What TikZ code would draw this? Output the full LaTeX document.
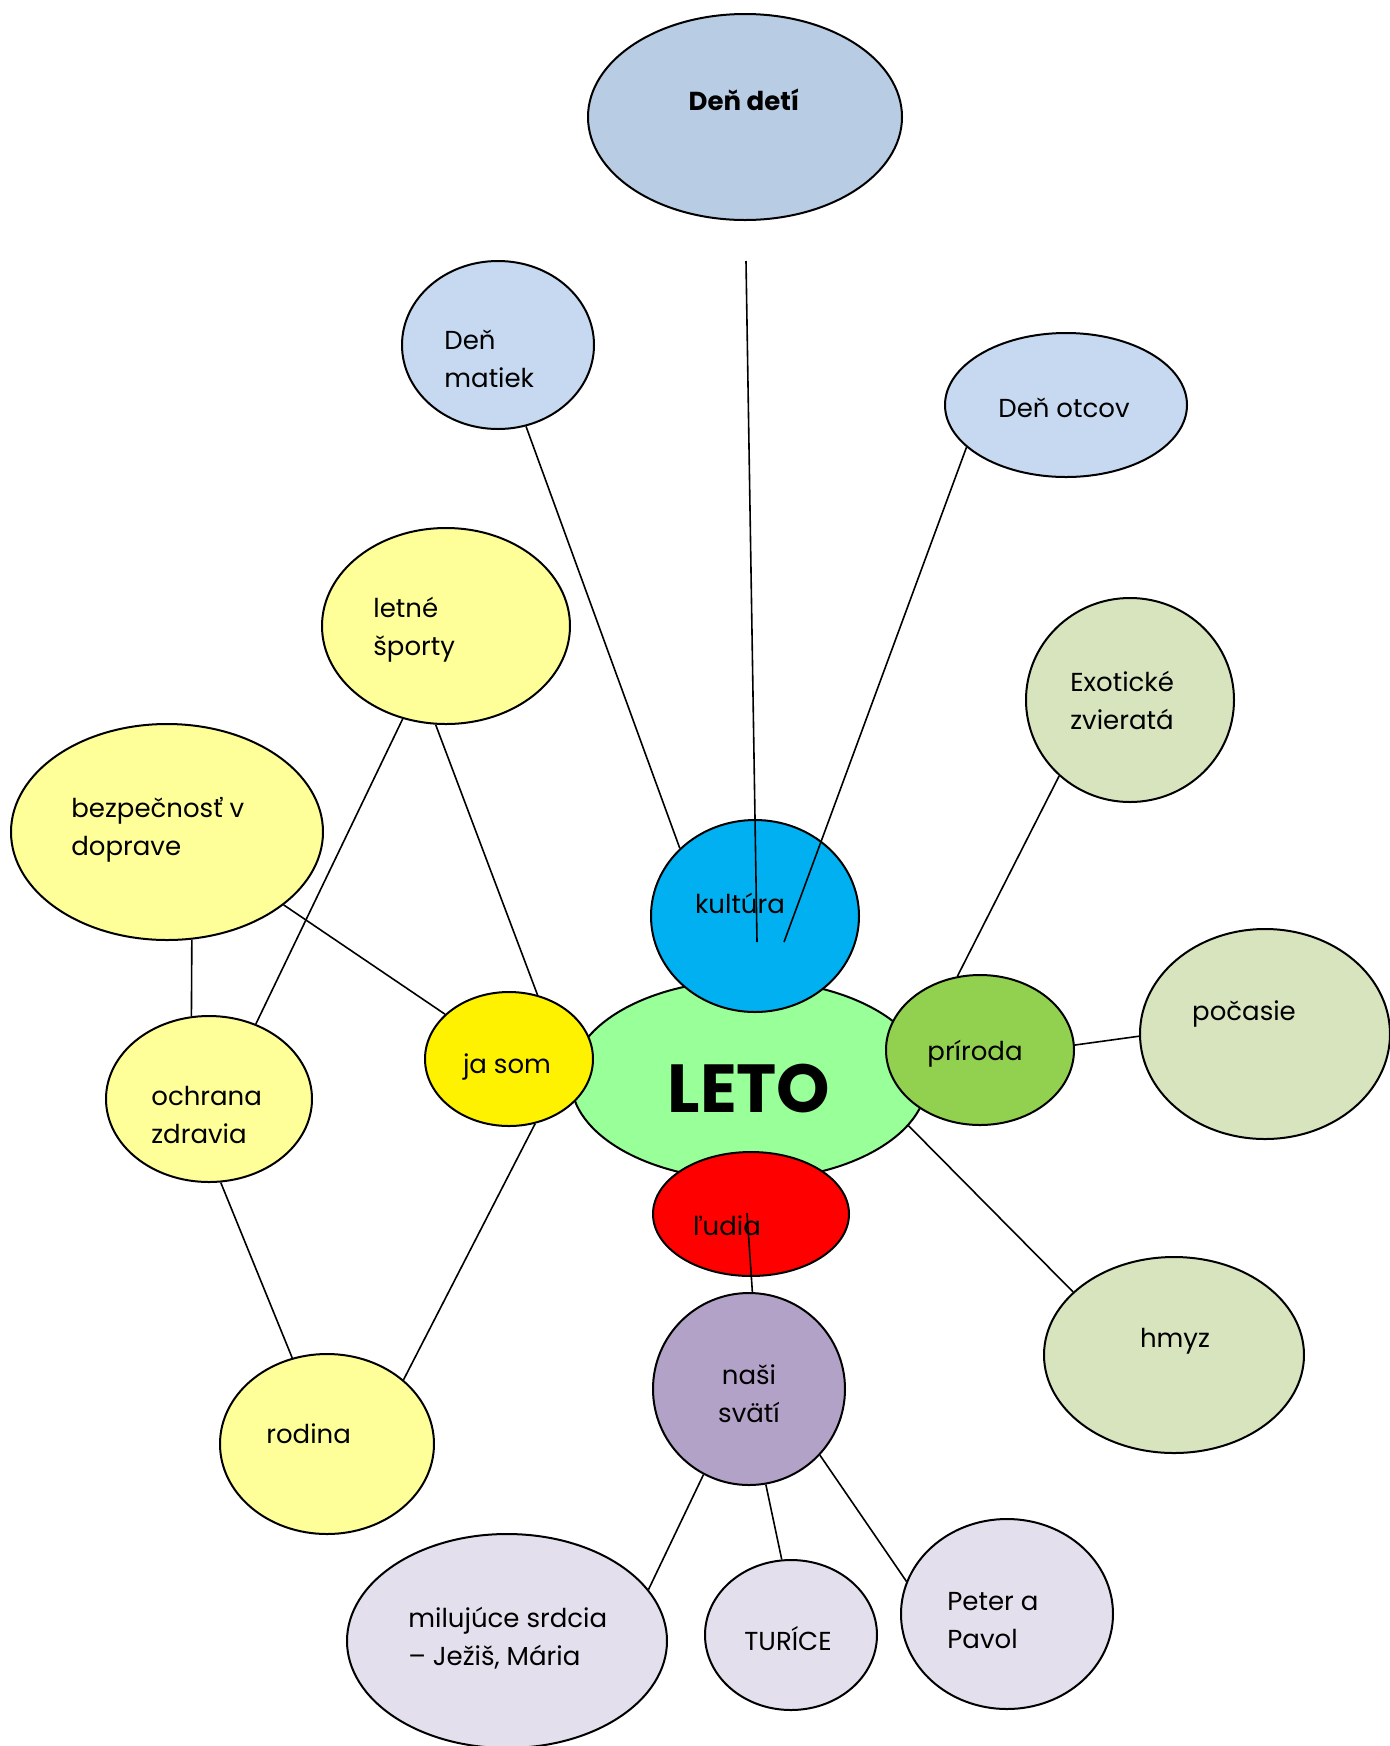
\documentclass[tikz,border=0pt]{standalone}
\usepackage{fontspec}
\setmainfont{Poppins}
\usetikzlibrary{shapes.geometric}

\definecolor{detiblue}{HTML}{B8CCE4}
\definecolor{lightblue}{HTML}{C6D9F1}
\definecolor{paleyellow}{HTML}{FFFF99}
\definecolor{kulturablue}{HTML}{00B0F0}
\definecolor{letogreen}{HTML}{99FF99}
\definecolor{prirodagreen}{HTML}{92D050}
\definecolor{palegreen}{HTML}{D7E4BD}
\definecolor{svatipurple}{HTML}{B3A2C7}
\definecolor{palepurple}{HTML}{E4DFEC}

\tikzset{
  oval/.style 2 args={ellipse, draw, line width=1pt, minimum width=#1pt, minimum height=#2pt, inner sep=0pt},
  txt/.style={font=\fontsize{13}{19}\selectfont, align=left, inner sep=0pt, yshift=-1.6pt},
  link/.style={line width=0.8pt},
}

\begin{document}
\begin{tikzpicture}[x=0.5pt,y=-0.5pt]
    % Canvas
    \fill[white] (0,0) rectangle (1389,1746);
    \useasboundingbox (0,0) rectangle (1389,1746);

    % Bubbles
    \node[oval={178}{100}, fill=letogreen] (leto) at (749,1080) {};
    \node[oval={157}{103}, fill=detiblue] (deti) at (745,117) {};
    \node[oval={96}{84}, fill=lightblue] (matiek) at (498,345) {};
    \node[oval={121}{72}, fill=lightblue] (otcov) at (1066,405) {};
    \node[oval={124}{98}, fill=paleyellow] (sporty) at (446,626) {};
    \node[oval={104}{102}, fill=palegreen] (exot) at (1130,700) {};
    \node[oval={156}{108}, fill=paleyellow] (bezp) at (167,832) {};
    \node[oval={104}{96}, fill=kulturablue] (kultura) at (755,916) {};
    \node[oval={84}{67}, fill=yellow] (jasom) at (509,1059) {};
    \node[oval={94}{75}, fill=prirodagreen] (priroda) at (980,1050) {};
    \node[oval={125}{105}, fill=palegreen] (pocasie) at (1265,1034) {};
    \node[oval={103}{83}, fill=paleyellow] (ochrana) at (209,1099) {};
    \node[oval={98}{62}, fill=red] (ludia) at (751,1214) {};
    \node[oval={130}{98}, fill=palegreen] (hmyz) at (1174,1355) {};
    \node[oval={96}{96}, fill=svatipurple] (svati) at (749,1389) {};
    \node[oval={107}{90}, fill=paleyellow] (rodina) at (327,1444) {};
    \node[oval={160}{107}, fill=palepurple] (miluj) at (507,1641) {};
    \node[oval={86}{75}, fill=palepurple] (turice) at (791,1635) {};
    \node[oval={106}{95}, fill=palepurple] (peter) at (1007,1614) {};

    % Loose ends
    \coordinate (detiTail) at (746,261);
    \coordinate (kulturaIn) at (757,942);
    \coordinate (otcovIn) at (784,942);
    \coordinate (ludiaIn) at (747,1213);

    % Connectors
    \draw[link] (detiTail) -- (kulturaIn);
    \draw[link] (matiek.-71) -- (kultura.138);
    \draw[link] (otcov.203) -- (otcovIn);
    \draw[link] (sporty.-96) -- (jasom.66);
    \draw[link] (sporty.-115) -- (ochrana.58);
    \draw[link] (bezp.-32) -- (jasom.145);
    \draw[link] (bezp.-77) -- (ochrana.102);
    \draw[link] (ochrana.-82) -- (rodina.112);
    \draw[link] (jasom.-68) -- (rodina.40);
    \draw[link] (exot.-133) -- (priroda.107);
    \draw[link] (priroda.3) -- (pocasie.181);
    \draw[link] (leto.-16) -- (hmyz.148);
    \draw[link] (ludiaIn) -- (svati.88);
    \draw[link] (svati.-118) -- (miluj.20);
    \draw[link] (svati.-80) -- (turice.97);
    \draw[link] (svati.-43) -- (peter.162);

    % Labels
    \node[txt, font=\fontsize{13}{19}\bfseries] (detiText) at (744,97) {Deň detí};
    \node[txt, anchor=west] (matiekText) at (444,356) {Deň\\matiek};
    \node[txt] (otcovText) at (1064,405) {Deň otcov};
    \node[txt, anchor=west] (sportyText) at (373,627) {letné\\športy};
    \node[txt, anchor=west] (exotText) at (1070,697) {Exotické\\zvieratá};
    \node[txt, anchor=west] (bezpText) at (71,827) {bezpečnosť v\\doprave};
    \node[txt] (kulturaText) at (740,900) {kultúra};
    \node[font=\fontsize{34}{40}\bfseries\selectfont, inner sep=0pt] (letoText) at (749,1089) {LETO};
    \node[txt] (jasomText) at (507,1064) {ja som};
    \node[txt] (prirodaText) at (975,1050) {príroda};
    \node[txt] (pocasieText) at (1244,1011) {počasie};
    \node[txt, anchor=west] (ochranaText) at (151,1112) {ochrana\\zdravia};
    \node[txt] (ludiaText) at (727,1223) {ľudia};
    \node[txt] (hmyzText) at (1175,1338) {hmyz};
    \node[txt, align=center] (svatiText) at (749,1391) {naši\\svätí};
    \node[txt, anchor=west] (rodinaText) at (266,1431) {rodina};
    \node[txt, anchor=west] (milujText) at (408,1635) {milujúce srdcia\\– Ježiš, Mária};
    \node[txt] (turiceText) at (788,1635) {TURÍCE};
    \node[txt, anchor=west] (peterText) at (947,1617) {Peter a\\Pavol};
\end{tikzpicture}
\end{document}
